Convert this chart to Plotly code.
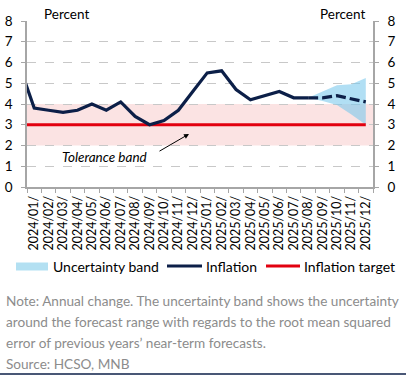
import plotly.graph_objects as go

# ---------------- data ----------------
categories = ["2023/12/",
              "2024/01/", "2024/02/", "2024/03/", "2024/04/", "2024/05/", "2024/06/",
              "2024/07/", "2024/08/", "2024/09/", "2024/10/", "2024/11/", "2024/12/",
              "2025/01/", "2025/02/", "2025/03/", "2025/04/", "2025/05/", "2025/06/",
              "2025/07/", "2025/08/", "2025/09/", "2025/10/", "2025/11/", "2025/12/"]
# actual inflation (2023/12 .. 2025/08)
inflation = [5.8,
             3.8, 3.7, 3.6, 3.7, 4.0, 3.7, 4.1, 3.4, 3.0, 3.2, 3.7, 4.6,
             5.5, 5.6, 4.7, 4.2, 4.4, 4.6, 4.3, 4.3]
# forecast (2025/08 .. 2025/12)
forecast_cats = ["2025/08/", "2025/09/", "2025/10/", "2025/11/", "2025/12/"]
forecast = [4.3, 4.3, 4.4, 4.25, 4.1]
band_upper = [4.3, 4.6, 4.9, 4.95, 5.25]
band_lower = [4.3, 4.15, 3.95, 3.5, 3.0]
target = [3.0] * len(categories)
tol_low, tol_high = 2.0, 4.0
y_ticks = [0, 1, 2, 3, 4, 5, 6, 7, 8]

legend_labels = ["Uncertainty band", "Inflation", "Inflation target"]
note_lines = ["Note: Annual change. The uncertainty band shows the uncertainty",
              "around the forecast range with regards to the root mean squared",
              "error of previous years’ near-term forecasts.",
              "Source: HCSO, MNB"]

# ---------------- style ----------------
NAVY = "#0c1f48"
RED = "#e2000f"
BLUE_BAND = "rgba(120,200,236,0.58)"
PINK = "rgba(240,140,140,0.24)"
AX = "#a6a6a6"
GRID = "#c8c8c8"
FONT = "Lato"

W, H = 406, 375
L, R, T, B = 27, 373, 21, 187


def px(x):
    return (x - L) / (R - L)


def py(y):
    return (B - y) / (B - T)


fig = go.Figure()

# tolerance band
fig.add_shape(type="rect", xref="paper", yref="y", x0=0, x1=1, y0=tol_low, y1=tol_high,
              fillcolor=PINK, line=dict(width=0), layer="below")

# uncertainty band
fig.add_trace(go.Scatter(x=forecast_cats + forecast_cats[::-1],
                         y=band_upper + band_lower[::-1],
                         fill="toself", fillcolor=BLUE_BAND, line=dict(width=0),
                         mode="lines", hoverinfo="skip", showlegend=False))
# target
fig.add_trace(go.Scatter(x=categories, y=target, mode="lines",
                         line=dict(color=RED, width=3), showlegend=False))
# inflation actual
fig.add_trace(go.Scatter(x=categories[:len(inflation)], y=inflation, mode="lines",
                         line=dict(color=NAVY, width=3.2), showlegend=False))
# forecast dashed
fig.add_trace(go.Scatter(x=forecast_cats, y=forecast, mode="lines",
                         line=dict(color=NAVY, width=3.2, dash="10px,4px"), showlegend=False))
# dummy for right axis
fig.add_trace(go.Scatter(x=categories[1:2], y=[None], yaxis="y2", showlegend=False,
                         hoverinfo="skip"))

fig.update_layout(
    width=W, height=H,
    margin=dict(l=L, r=W - R, t=T, b=H - B, pad=0, autoexpand=False),
    paper_bgcolor="white", plot_bgcolor="rgba(0,0,0,0)",
    font=dict(family=FONT, size=13, color="#000000"),
    showlegend=False,
    xaxis=dict(type="category", categoryorder="array", categoryarray=categories,
               range=[0.5, len(categories) - 0.5], tickson="boundaries",
               tickmode="array", tickvals=categories[1:], ticktext=categories[1:],
               automargin=False,
               showgrid=False, zeroline=False, showline=True, linecolor=AX, linewidth=1.5,
               ticks="outside", ticklen=4, tickcolor=AX, tickwidth=1.2,
               tickangle=-90, tickfont=dict(size=12.5, color="#000"), ticklabelstandoff=2),
    yaxis=dict(range=[0, 8], tickvals=y_ticks, showgrid=True, gridcolor=GRID, griddash="dash",
               automargin=False,
               gridwidth=1, zeroline=False, showline=True, linecolor=AX, linewidth=1.5,
               ticks="outside", ticklen=4, tickcolor=AX, tickwidth=1.2,
               tickfont=dict(size=13.5, color="#000"), ticklabelstandoff=6),
    yaxis2=dict(range=[0, 8], tickvals=y_ticks, overlaying="y", side="right",
                automargin=False,
                showgrid=False, zeroline=False, showline=True, linecolor=AX, linewidth=1.5,
                ticks="outside", ticklen=4, tickcolor=AX, tickwidth=1.2,
                tickfont=dict(size=13.5, color="#000"), ticklabelstandoff=6),
)

ann = []
ann.append(dict(text="Percent", x=px(42), y=py(14), xref="paper", yref="paper",
                xanchor="left", yanchor="middle", showarrow=False, font=dict(size=13.5)))
ann.append(dict(text="Percent", x=px(367), y=py(14), xref="paper", yref="paper",
                xanchor="right", yanchor="middle", showarrow=False, font=dict(size=13.5)))
ann.append(dict(text="<i>Tolerance band</i>", x=px(104), y=py(157), xref="paper", yref="paper",
                xanchor="center", yanchor="middle", showarrow=False, font=dict(size=13.5)))
ann.append(dict(text="", x=px(189), y=py(134), xref="paper", yref="paper",
                ax=-31, ay=18, showarrow=True, arrowhead=2, arrowsize=1, arrowwidth=1,
                arrowcolor="#000"))

# legend (manual)
LY = 266
fig.add_shape(type="rect", xref="paper", yref="paper", x0=px(16), x1=px(48),
              y0=py(270.5), y1=py(262.5), fillcolor="#b3e0f2", line=dict(width=0))
fig.add_shape(type="line", xref="paper", yref="paper", x0=px(167), x1=px(202),
              y0=py(LY), y1=py(LY), line=dict(color=NAVY, width=3))
fig.add_shape(type="line", xref="paper", yref="paper", x0=px(266), x1=px(300),
              y0=py(LY), y1=py(LY), line=dict(color=RED, width=3))
for txt, x0 in zip(legend_labels, [51, 204, 302]):
    ann.append(dict(text=txt, x=px(x0), y=py(LY), xref="paper", yref="paper",
                    xanchor="left", yanchor="middle", showarrow=False, font=dict(size=14)))

# notes
for i, line in enumerate(note_lines):
    ann.append(dict(text=line, x=px(4), y=py(300.5 + i * 21), xref="paper", yref="paper",
                    xanchor="left", yanchor="middle", showarrow=False,
                    font=dict(size=13.6, color="#8c8c8c")))
fig.add_shape(type="line", xref="paper", yref="paper", x0=px(0), x1=px(406),
              y0=py(374), y1=py(374), line=dict(color=NAVY, width=1.5))

fig.update_layout(annotations=ann)
fig.write_html("out.html",
               config={"displayModeBar": False},
               post_script="document.body.style.margin='0';document.body.style.padding='0';"
                           "document.body.style.overflow='hidden';")
